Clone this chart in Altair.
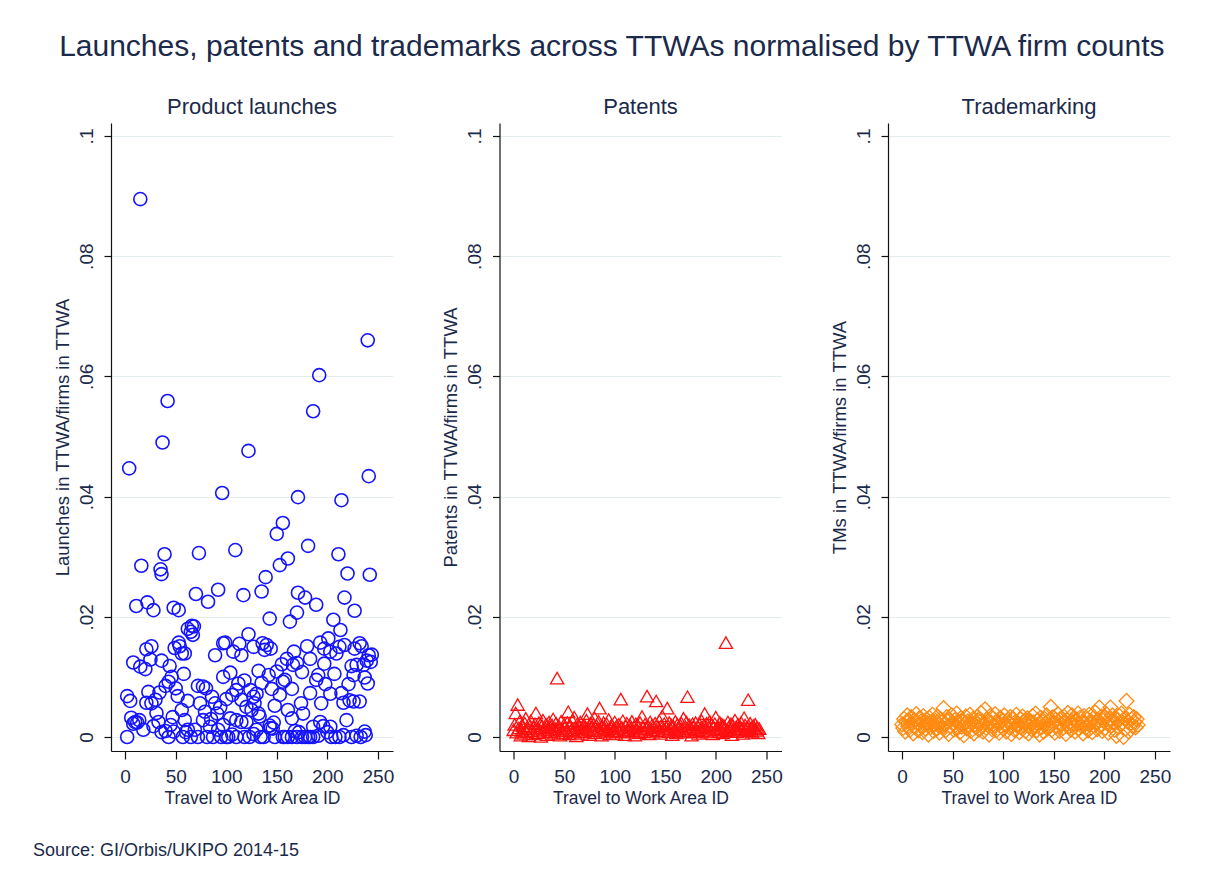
import altair as alt
import pandas as pd

FONT = "Liberation Sans"
NAVY = "#1b2a4a"

main_title = "Launches, patents and trademarks across TTWAs normalised by TTWA firm counts"
panel_titles = ["Product launches", "Patents", "Trademarking"]
y_titles = ["Launches in TTWA/firms in TTWA", "Patents in TTWA/firms in TTWA", "TMs in TTWA/firms in TTWA"]
x_title = "Travel to Work Area ID"
source_note = "Source: GI/Orbis/UKIPO 2014-15"
x_ticks = [0, 50, 100, 150, 200, 250]
y_ticks = [0, 0.02, 0.04, 0.06, 0.08, 0.1]

launch_id = [
    15, 240, 4, 37, 42, 96, 122, 150, 156, 171,
    186, 192, 181, 214, 241, 211, 39, 73, 109, 161,
    153, 16, 35, 36, 139, 220, 242, 135, 117, 92,
    82, 70, 11, 22, 28, 48, 53, 143, 163, 170,
    171, 178, 189, 206, 213, 217, 227, 62, 66, 68,
    65, 67, 49, 53, 56, 59, 54, 21, 26, 25,
    36, 8, 15, 20, 44, 46, 43, 40, 58, 2,
    5, 6, 10, 14, 8, 12, 18, 2, 23, 21,
    26, 30, 31, 33, 34, 40, 45, 48, 43, 50,
    52, 62, 62, 69, 65, 72, 72, 77, 80, 74,
    79, 77, 86, 89, 91, 81, 87, 92, 100, 110,
    97, 89, 97, 99, 107, 115, 113, 122, 127, 97,
    104, 106, 110, 115, 120, 124, 127, 130, 125, 128,
    132, 133, 104, 110, 115, 120, 132, 142, 145, 148,
    153, 156, 158, 165, 136, 140, 144, 138, 130, 137,
    143, 144, 148, 156, 161, 168, 170, 175, 178, 183,
    186, 191, 196, 200, 204, 208, 155, 166, 167, 180,
    183, 193, 197, 201, 203, 209, 212, 217, 227, 232,
    234, 241, 236, 229, 224, 239, 226, 237, 240, 221,
    207, 191, 189, 197, 203, 214, 216, 226, 232, 194,
    183, 174, 176, 219, 237, 229, 193, 203, 186, 147,
    146, 161, 165, 118, 123, 127, 134, 158, 165, 172,
    181, 212, 216, 224, 233, 238, 57, 60, 84, 95,
    102, 106, 28, 36, 47, 56, 59, 85, 94, 100,
    112, 118, 135, 150, 160, 170, 175, 198, 222, 243,
    244,
]
launch_val = [
    0.0895, 0.0660, 0.0447, 0.0490, 0.0559, 0.0406, 0.0476, 0.0338, 0.0356, 0.0399,
    0.0542, 0.0602, 0.0318, 0.0394, 0.0434, 0.0304, 0.0304, 0.0306, 0.0311, 0.0297,
    0.0286, 0.0285, 0.0279, 0.0271, 0.0266, 0.0272, 0.0270, 0.0242, 0.0236, 0.0245,
    0.0225, 0.0238, 0.0218, 0.0224, 0.0211, 0.0215, 0.0211, 0.0197, 0.0192, 0.0207,
    0.0240, 0.0232, 0.0220, 0.0195, 0.0178, 0.0232, 0.0210, 0.0180, 0.0185, 0.0184,
    0.0175, 0.0170, 0.0148, 0.0157, 0.0139, 0.0139, 0.0151, 0.0146, 0.0151, 0.0129,
    0.0127, 0.0124, 0.0117, 0.0113, 0.0118, 0.0100, 0.0092, 0.0085, 0.0105, 0.0068,
    0.0060, 0.0032, 0.0025, 0.0028, 0.0022, 0.0024, 0.0012, 0.0000, 0.0075, 0.0057,
    0.0056, 0.0062, 0.0040, 0.0025, 0.0074, 0.0010, 0.0020, 0.0009, 0.0000, 0.0081,
    0.0068, 0.0060, 0.0012, 0.0012, 0.0000, 0.0000, 0.0085, 0.0084, 0.0081, 0.0056,
    0.0042, 0.0028, 0.0067, 0.0056, 0.0039, 0.0000, 0.0000, 0.0012, 0.0000, 0.0000,
    0.0020, 0.0136, 0.0156, 0.0157, 0.0142, 0.0136, 0.0155, 0.0171, 0.0150, 0.0100,
    0.0107, 0.0070, 0.0078, 0.0062, 0.0050, 0.0078, 0.0067, 0.0072, 0.0045, 0.0056,
    0.0039, 0.0034, 0.0031, 0.0028, 0.0025, 0.0025, 0.0110, 0.0103, 0.0080, 0.0052,
    0.0070, 0.0092, 0.0095, 0.0080, 0.0156, 0.0153, 0.0147, 0.0145, 0.0012, 0.0000,
    0.0019, 0.0015, 0.0000, 0.0000, 0.0000, 0.0010, 0.0000, 0.0000, 0.0000, 0.0000,
    0.0000, 0.0002, 0.0018, 0.0008, 0.0000, 0.0000, 0.0121, 0.0120, 0.0142, 0.0151,
    0.0130, 0.0157, 0.0147, 0.0164, 0.0142, 0.0139, 0.0150, 0.0153, 0.0147, 0.0156,
    0.0151, 0.0136, 0.0120, 0.0120, 0.0118, 0.0127, 0.0103, 0.0099, 0.0089, 0.0088,
    0.0105, 0.0103, 0.0095, 0.0122, 0.0072, 0.0073, 0.0057, 0.0059, 0.0059, 0.0056,
    0.0073, 0.0056, 0.0039, 0.0028, 0.0009, 0.0002, 0.0025, 0.0017, 0.0017, 0.0024,
    0.0014, 0.0045, 0.0031, 0.0000, 0.0000, 0.0005, 0.0000, 0.0000, 0.0000, 0.0008,
    0.0000, 0.0000, 0.0003, 0.0000, 0.0000, 0.0003, 0.0000, 0.0008, 0.0017, 0.0000,
    0.0000, 0.0004, 0.0018, 0.0008, 0.0033, 0.0045, 0.0028, 0.0030, 0.0049, 0.0063,
    0.0089, 0.0094, 0.0090, 0.0109, 0.0130, 0.0123, 0.0108, 0.0088, 0.0061, 0.0125,
    0.0137,
]

patent_val = [
    0.0012, 0.0021, 0.0040, 0.0008, 0.0054, 0.0015, 0.0026, 0.0003, 0.0011, 0.0019,
    0.0006, 0.0023, 0.0031, 0.0009, 0.0014, 0.0002, 0.0018, 0.0027, 0.0010, 0.0005,
    0.0016, 0.0022, 0.0040, 0.0013, 0.0007, 0.0024, 0.0011, 0.0001, 0.0019, 0.0028,
    0.0008, 0.0015, 0.0021, 0.0004, 0.0012, 0.0025, 0.0017, 0.0009, 0.0020, 0.0030,
    0.0006, 0.0014, 0.0023, 0.0098, 0.0011, 0.0018, 0.0003, 0.0026, 0.0013, 0.0007,
    0.0021, 0.0016, 0.0010, 0.0024, 0.0042, 0.0005, 0.0019, 0.0012, 0.0027, 0.0008,
    0.0033, 0.0015, 0.0002, 0.0022, 0.0011, 0.0018, 0.0025, 0.0006, 0.0014, 0.0020,
    0.0009, 0.0017, 0.0028, 0.0039, 0.0012, 0.0004, 0.0023, 0.0016, 0.0010, 0.0021,
    0.0032, 0.0007, 0.0019, 0.0013, 0.0026, 0.0048, 0.0011, 0.0003, 0.0018, 0.0024,
    0.0015, 0.0008, 0.0022, 0.0012, 0.0029, 0.0005, 0.0017, 0.0020, 0.0010, 0.0014,
    0.0025, 0.0006, 0.0019, 0.0013, 0.0021, 0.0009, 0.0063, 0.0016, 0.0027, 0.0011,
    0.0004, 0.0018, 0.0023, 0.0012, 0.0008, 0.0020, 0.0015, 0.0026, 0.0010, 0.0017,
    0.0003, 0.0022, 0.0013, 0.0019, 0.0007, 0.0024, 0.0011, 0.0034, 0.0016, 0.0009,
    0.0021, 0.0014, 0.0068, 0.0018, 0.0005, 0.0025, 0.0012, 0.0020, 0.0008, 0.0015,
    0.0023, 0.0060, 0.0010, 0.0017, 0.0027, 0.0006, 0.0019, 0.0035, 0.0013, 0.0022,
    0.0011, 0.0016, 0.0048, 0.0009, 0.0024, 0.0014, 0.0020, 0.0004, 0.0018, 0.0012,
    0.0026, 0.0007, 0.0021, 0.0015, 0.0010, 0.0019, 0.0023, 0.0013, 0.0031, 0.0008,
    0.0017, 0.0025, 0.0067, 0.0011, 0.0020, 0.0014, 0.0003, 0.0022, 0.0016, 0.0009,
    0.0024, 0.0012, 0.0018, 0.0006, 0.0021, 0.0015, 0.0027, 0.0010, 0.0019, 0.0039,
    0.0013, 0.0023, 0.0008, 0.0017, 0.0026, 0.0011, 0.0020, 0.0005, 0.0016, 0.0022,
    0.0033, 0.0012, 0.0018, 0.0009, 0.0024, 0.0014, 0.0021, 0.0007, 0.0019, 0.0015,
    0.0157, 0.0010, 0.0025, 0.0017, 0.0012, 0.0022, 0.0004, 0.0019, 0.0013, 0.0028,
    0.0016, 0.0009, 0.0021, 0.0011, 0.0018, 0.0024, 0.0014, 0.0006, 0.0032, 0.0020,
    0.0012, 0.0017, 0.0062, 0.0010, 0.0023, 0.0015, 0.0008, 0.0019, 0.0013, 0.0021,
    0.0011, 0.0016, 0.0007, 0.0014,
]

tm_val = [
    0.0021, 0.0015, 0.0030, 0.0009, 0.0025, 0.0036, 0.0018, 0.0027, 0.0012, 0.0033,
    0.0022, 0.0006, 0.0028, 0.0017, 0.0038, 0.0024, 0.0011, 0.0031, 0.0019, 0.0026,
    0.0008, 0.0035, 0.0020, 0.0014, 0.0029, 0.0023, 0.0004, 0.0032, 0.0016, 0.0025,
    0.0037, 0.0010, 0.0021, 0.0027, 0.0013, 0.0034, 0.0019, 0.0007, 0.0030, 0.0024,
    0.0016, 0.0048, 0.0022, 0.0011, 0.0033, 0.0026, 0.0005, 0.0029, 0.0018, 0.0036,
    0.0023, 0.0012, 0.0028, 0.0020, 0.0039, 0.0015, 0.0025, 0.0008, 0.0031, 0.0017,
    0.0027, 0.0003, 0.0022, 0.0034, 0.0014, 0.0026, 0.0019, 0.0037, 0.0010, 0.0024,
    0.0030, 0.0006, 0.0021, 0.0016, 0.0033, 0.0028, 0.0012, 0.0025, 0.0040, 0.0018,
    0.0009, 0.0023, 0.0046, 0.0015, 0.0029, 0.0020, 0.0004, 0.0035, 0.0024, 0.0013,
    0.0031, 0.0019, 0.0038, 0.0011, 0.0026, 0.0022, 0.0007, 0.0032, 0.0017, 0.0028,
    0.0014, 0.0036, 0.0021, 0.0009, 0.0027, 0.0024, 0.0016, 0.0033, 0.0005, 0.0019,
    0.0030, 0.0012, 0.0025, 0.0037, 0.0018, 0.0022, 0.0008, 0.0029, 0.0015, 0.0034,
    0.0020, 0.0027, 0.0010, 0.0023, 0.0031, 0.0006, 0.0019, 0.0026, 0.0013, 0.0035,
    0.0024, 0.0017, 0.0039, 0.0011, 0.0028, 0.0021, 0.0004, 0.0032, 0.0016, 0.0025,
    0.0009, 0.0030, 0.0022, 0.0036, 0.0014, 0.0027, 0.0019, 0.0050, 0.0012, 0.0033,
    0.0023, 0.0007, 0.0029, 0.0018, 0.0038, 0.0025, 0.0010, 0.0031, 0.0021, 0.0015,
    0.0034, 0.0026, 0.0005, 0.0028, 0.0040, 0.0017, 0.0024, 0.0012, 0.0036, 0.0020,
    0.0030, 0.0009, 0.0027, 0.0022, 0.0039, 0.0014, 0.0032, 0.0019, 0.0025, 0.0006,
    0.0035, 0.0023, 0.0016, 0.0029, 0.0011, 0.0037, 0.0021, 0.0026, 0.0008, 0.0031,
    0.0018, 0.0041, 0.0024, 0.0013, 0.0028, 0.0049, 0.0020, 0.0034, 0.0010, 0.0027,
    0.0033, 0.0015, 0.0038, 0.0022, 0.0007, 0.0030, 0.0049, 0.0019, 0.0036, 0.0025,
    0.0012, 0.0032, 0.0002, 0.0028, 0.0017, 0.0035, 0.0021, 0.0039, 0.0024, 0.0000,
    0.0031, 0.0014, 0.0060, 0.0026, 0.0009, 0.0037, 0.0022, 0.0029, 0.0018, 0.0033,
    0.0025, 0.0016, 0.0030, 0.0020,
]

patent_id = list(range(len(patent_val)))
tm_id = list(range(len(tm_val)))

X_DOMAIN = [-14, 265]
Y_DOMAIN = [-0.00233, 0.10216]
W, H = 282, 628


def panel(df, title, ytitle, shape, color, size, sw):
    return alt.Chart(df).mark_point(
        shape=shape, filled=False, color=color, size=size, strokeWidth=sw, opacity=1
    ).encode(
        x=alt.X("id:Q", scale=alt.Scale(domain=X_DOMAIN, nice=False, zero=False),
                axis=alt.Axis(values=x_ticks, title=x_title, grid=False, labelFontSize=19,
                              titleFontSize=17.5, tickSize=8, labelPadding=8, titlePadding=3,
                              labelFlush=False)),
        y=alt.Y("v:Q", scale=alt.Scale(domain=Y_DOMAIN, nice=False, zero=False),
                axis=alt.Axis(values=y_ticks, title=ytitle, grid=True, gridColor="#e4edf0",
                              labelExpr="datum.value == 0 ? '0' : replace(format(datum.value, '.2~f'), '0.', '.')",
                              labelAngle=270, labelAlign="center", labelBaseline="alphabetic",
                              labelFontSize=19, titleFontSize=18.5, tickSize=7, labelPadding=12,
                              titlePadding=5, labelFlush=False)),
    ).properties(width=W, height=H,
                 title=alt.TitleParams(title, fontSize=22, offset=4))


df1 = pd.DataFrame({"id": launch_id, "v": launch_val})
df2 = pd.DataFrame({"id": patent_id, "v": patent_val})
df3 = pd.DataFrame({"id": tm_id, "v": tm_val})

p1 = panel(df1, panel_titles[0], y_titles[0], "circle", "#1414ff", 170, 1.6)
note = alt.Chart(pd.DataFrame({"t": [source_note]})).mark_text(
    align="left", baseline="middle", fontSize=18, font=FONT, color=NAVY
).encode(x=alt.value(-78), y=alt.value(728), text="t:N")
p1 = alt.layer(p1, note).properties(width=W, height=H,
                                     title=alt.TitleParams(panel_titles[0], fontSize=22, offset=4))
p2 = panel(df2, panel_titles[1], y_titles[1], "triangle-up", "#ff1010", 175, 1.3)
p3 = panel(df3, panel_titles[2], y_titles[2], "diamond", "#ff8a10", 220, 1.3)

chart = alt.hconcat(p1, p2, p3, spacing=106.5, bounds="flush").properties(
    title=alt.TitleParams(main_title, fontSize=30, anchor="middle", offset=34, dx=10),
    padding={"left": 25, "top": 24, "right": 5, "bottom": 2},
).configure_view(stroke=None).configure_axis(
    domainColor="#111111", tickColor="#111111", domainWidth=1.2, tickWidth=1.2,
    labelColor=NAVY, titleColor=NAVY, labelFont=FONT, titleFont=FONT,
    titleFontWeight="normal",
).configure_title(font=FONT, color=NAVY, fontWeight="normal")

chart.save("out.html", embed_options={"renderer": "svg", "actions": False})
